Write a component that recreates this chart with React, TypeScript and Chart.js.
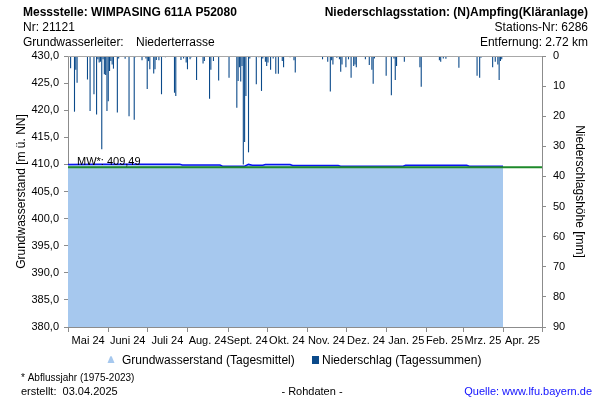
import React, { useEffect, useRef } from 'react';
import { Chart, registerables } from 'chart.js';

Chart.register(...registerables);

// ---- data (days counted from 1 May 2024) ----
const monthLabels = ['Mai 24', 'Juni 24', 'Juli 24', 'Aug. 24', 'Sept. 24', 'Okt. 24', 'Nov. 24', 'Dez. 24', 'Jan. 25', 'Feb. 25', 'Mrz. 25', 'Apr. 25'];
const monthStarts = [0, 31, 61, 92, 123, 153, 184, 214, 245, 276, 304, 335, 365];

const gwDays = [0, 24, 86, 88, 117, 119, 136, 139, 142, 150, 152, 171, 173, 208, 210, 258, 260, 307, 309, 335];
const gwLevels = [409.98, 410.05, 410.05, 409.88, 409.88, 409.68, 409.68, 410.0, 409.85, 409.85, 409.98, 409.98, 409.8, 409.8, 409.68, 409.68, 409.85, 409.85, 409.68, 409.68];

const meanLevel = 409.49;

const precipDays = [2, 5, 6, 7, 15, 17, 20, 22, 23, 24, 25, 26, 27, 28, 29, 30, 31, 32, 33, 34, 35, 38, 39, 44, 47, 51, 52, 57, 60, 61, 62, 63, 66, 67, 68, 70, 72, 75, 82, 83, 87, 89, 91, 92, 94, 95, 99, 104, 105, 109, 110, 112, 116, 124, 130, 131, 132, 133, 134, 135, 136, 137, 139, 140, 145, 147, 149, 150, 152, 153, 154, 156, 158, 160, 162, 165, 166, 171, 174, 175, 190, 196, 200, 202, 203, 204, 207, 209, 210, 211, 214, 216, 218, 220, 221, 222, 229, 232, 234, 235, 236, 241, 245, 249, 251, 252, 253, 259, 267, 271, 272, 274, 286, 287, 289, 291, 301, 313, 315, 317, 318, 319, 327, 329, 331, 332, 333, 334];
const precipMm = [4.1, 18.5, 4.6, 8.9, 7.8, 18.3, 12.7, 19.4, 1.1, 2.2, 1.9, 31, 1.1, 6.1, 6.3, 18.3, 15, 5, 1.7, 2.8, 4.2, 18.8, 0.8, 0.9, 20, 21.2, 0.4, 1.4, 0.8, 11, 1.7, 4.4, 5.8, 4.4, 1.3, 1.4, 12.7, 0.4, 12.2, 13.3, 1.3, 0.8, 2.2, 4.4, 1.1, 0.4, 8, 2.5, 1.7, 14.2, 4.6, 1.7, 8.1, 7.2, 17.2, 8.3, 3.7, 8.5, 3.3, 36, 28.6, 13.3, 32, 0.8, 9.4, 0.4, 11.6, 0.8, 1.9, 3.3, 2.2, 4.6, 0.8, 5.9, 5.9, 1.7, 3.7, 0.4, 1.4, 5.5, 0.3, 1.1, 1.9, 11.8, 1.4, 2.8, 0.6, 1.1, 5.2, 2.8, 3.7, 1.1, 7.2, 3.3, 2.8, 3.7, 1.1, 3, 4.6, 9.2, 0.8, 0.2, 6.6, 13, 0.8, 8, 3.3, 1.9, 0.3, 3.7, 10.2, 0.3, 1.4, 1.9, 0.8, 0.9, 3.9, 0.3, 6.6, 7.2, 0.6, 0.3, 3.7, 1.9, 2.8, 8, 1.7, 1.1];

const FONT = '"Liberation Sans", Arial, Helvetica, sans-serif';
const AXIS_GREY = '#8c8c8c';
const FILL_BLUE = '#a6c8ee';
const LINE_BLUE = '#0a14f0';
const BAR_BLUE = '#0b4a8a';
const MW_GREEN = '#1e8a2a';

const monthMids = monthLabels.map((_, i) => (monthStarts[i] + monthStarts[i + 1]) / 2);

const decorPlugin = {
  id: 'decor',
  afterDraw(chart: any) {
    const { ctx, chartArea, scales } = chart;
    const xs = scales.x;
    const ys = scales.y;
    ctx.save();
    // top frame line
    ctx.strokeStyle = '#a8a8a8';
    ctx.lineWidth = 1;
    ctx.beginPath();
    ctx.moveTo(chartArea.left, Math.round(chartArea.top) + 0.5);
    ctx.lineTo(chartArea.right, Math.round(chartArea.top) + 0.5);
    ctx.stroke();
    // month boundary tick marks
    ctx.strokeStyle = AXIS_GREY;
    ctx.beginPath();
    monthStarts.forEach((d) => {
      const px = Math.round(xs.getPixelForValue(d)) + 0.5;
      ctx.moveTo(px, chartArea.bottom);
      ctx.lineTo(px, chartArea.bottom + 5);
    });
    ctx.stroke();

    // MW label
    ctx.fillStyle = '#000';
    ctx.font = `11px ${FONT}`;
    ctx.textAlign = 'left';
    ctx.textBaseline = 'alphabetic';
    ctx.fillText(`MW*: ${meanLevel.toFixed(2).replace('.', ',')}`, chartArea.left + 9, ys.getPixelForValue(meanLevel) - 2);

    // header
    ctx.font = `bold 12px ${FONT}`;
    ctx.fillText('Messstelle: WIMPASING 611A P52080', 23, 16);
    ctx.font = `12px ${FONT}`;
    ctx.fillText('Nr: 21121', 23, 31);
    ctx.fillText('Grundwasserleiter:', 23, 46);
    ctx.fillText('Niederterrasse', 136, 46);
    ctx.textAlign = 'right';
    ctx.font = `bold 12px ${FONT}`;
    ctx.fillText('Niederschlagsstation: (N)Ampfing(Kläranlage)', 588, 16);
    ctx.font = `12px ${FONT}`;
    ctx.fillText('Stations-Nr: 6286', 588, 31);
    ctx.fillText('Entfernung: 2.72 km', 588, 46);

    // legend
    ctx.fillStyle = FILL_BLUE;
    ctx.beginPath();
    ctx.moveTo(107.5, 363);
    ctx.lineTo(110, 357);
    ctx.quadraticCurveTo(111, 355, 112, 357);
    ctx.lineTo(114.5, 363);
    ctx.closePath();
    ctx.fill();
    ctx.fillStyle = BAR_BLUE;
    ctx.fillRect(312, 356, 7, 8);
    ctx.fillStyle = '#000';
    ctx.textAlign = 'left';
    ctx.font = `12px ${FONT}`;
    ctx.fillText('Grundwasserstand (Tagesmittel)', 122, 364);
    ctx.fillText('Niederschlag (Tagessummen)', 322, 364);

    // footer
    ctx.font = `10px ${FONT}`;
    ctx.fillText('* Abflussjahr (1975-2023)', 21, 381);
    ctx.font = `11px ${FONT}`;
    ctx.fillText('erstellt:  03.04.2025', 21, 395);
    ctx.textAlign = 'center';
    ctx.fillText('- Rohdaten -', 312, 395);
    ctx.textAlign = 'right';
    ctx.fillStyle = '#1010ff';
    ctx.fillText('Quelle: www.lfu.bayern.de', 592, 395);
    ctx.restore();
  },
};

export default function App() {
  const canvasRef = useRef<HTMLCanvasElement | null>(null);

  useEffect(() => {
    document.body.style.margin = '0';
    const canvas = canvasRef.current;
    if (!canvas) return;

    const chart = new Chart(canvas, {
      type: 'bar',
      data: {
        datasets: [
          {
            type: 'line',
            label: 'Grundwasserstand (Tagesmittel)',
            data: gwDays.map((d, i) => ({ x: d, y: gwLevels[i] })),
            xAxisID: 'x',
            yAxisID: 'y',
            borderColor: LINE_BLUE,
            borderWidth: 1.5,
            backgroundColor: FILL_BLUE,
            fill: 'start',
            pointRadius: 0,
            tension: 0,
            order: 3,
          } as any,
          {
            type: 'line',
            label: 'MW',
            data: [{ x: 0, y: meanLevel }, { x: 365, y: meanLevel }],
            xAxisID: 'x',
            yAxisID: 'y',
            borderColor: MW_GREEN,
            borderWidth: 2,
            pointRadius: 0,
            fill: false,
            order: 2,
          } as any,
          {
            type: 'bar',
            label: 'Niederschlag (Tagessummen)',
            data: precipDays.map((d, i) => ({ x: d, y: precipMm[i] })),
            xAxisID: 'x',
            yAxisID: 'y1',
            backgroundColor: BAR_BLUE,
            barThickness: 1.1,
            inflateAmount: 0,
            order: 1,
          } as any,
        ],
      },
      options: {
        responsive: false,
        animation: false,
        devicePixelRatio: 1,
        layout: { padding: { left: 0, right: 0, top: 56, bottom: 53 } },
        plugins: {
          legend: { display: false },
          tooltip: { enabled: false },
        },
        scales: {
          x: {
            type: 'linear',
            min: 0,
            max: 365,
            offset: false,
            afterBuildTicks: (s: any) => {
              s.ticks = monthMids.map((v) => ({ value: v }));
            },
            afterFit: (s: any) => {
              s.height = 20;
            },
            ticks: {
              autoSkip: false,
              maxRotation: 0,
              minRotation: 0,
              padding: 2,
              color: '#000',
              font: { family: FONT, size: 11 },
              callback: (_v: any, i: number) => monthLabels[i],
            },
            grid: { drawOnChartArea: false, drawTicks: true, tickLength: 5, color: 'rgba(0,0,0,0)', offset: false },
            border: { display: true, color: AXIS_GREY },
          },
          y: {
            type: 'linear',
            position: 'left',
            min: 380,
            max: 430,
            afterFit: (s: any) => {
              s.width = 68;
            },
            ticks: {
              stepSize: 5,
              padding: 5,
              color: '#000',
              font: { family: FONT, size: 11 },
              callback: (v: any) => Number(v).toFixed(1).replace('.', ','),
            },
            grid: { drawOnChartArea: false, tickLength: 4, color: AXIS_GREY },
            border: { display: true, color: AXIS_GREY },
            title: {
              display: true,
              text: 'Grundwasserstand [m ü. NN]',
              color: '#000',
              font: { family: FONT, size: 12 },
              padding: { top: 14, bottom: 0 },
            },
          },
          y1: {
            type: 'linear',
            position: 'right',
            reverse: true,
            min: 0,
            max: 90,
            afterFit: (s: any) => {
              s.width = 58;
            },
            ticks: {
              stepSize: 10,
              padding: 7,
              color: '#000',
              font: { family: FONT, size: 11 },
            },
            grid: { drawOnChartArea: false, tickLength: 4, color: AXIS_GREY },
            border: { display: true, color: AXIS_GREY },
            title: {
              display: true,
              text: 'Niederschlagshöhe [mm]',
              color: '#000',
              font: { family: FONT, size: 12 },
              padding: { top: 13, bottom: 0 },
            },
          },
        },
      } as any,
      plugins: [decorPlugin],
    });

    return () => chart.destroy();
  }, []);

  return (
    <div style={{ width: 600, height: 400, background: '#fff' }}>
      <canvas ref={canvasRef} width={600} height={400} style={{ display: 'block' }} />
    </div>
  );
}
